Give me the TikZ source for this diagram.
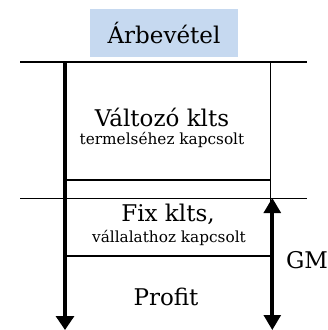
\documentclass[tikz,border=0pt]{standalone}
\usepackage{fontspec}
\setmainfont{DejaVu Serif}
\usetikzlibrary{arrows.meta}
\definecolor{headblue}{HTML}{C6D9F0}
\tikzset{
  bigtext/.style={font=\fontsize{23}{25}\selectfont, inner sep=0pt},
  smalltext/.style={font=\fontsize{15.3}{17}\selectfont, inner sep=0pt},
  rule/.style={line width=1.5pt},
  thinrule/.style={line width=1pt},
  axis/.style={line width=3.2pt, -{Triangle[length=14pt,width=18pt]}},
  gmaxis/.style={line width=2.6pt, {Triangle[length=15pt,width=17pt]}-{Triangle[length=15pt,width=17pt]}}
}
\begin{document}
\begin{tikzpicture}[x=1pt,y=-1pt]
\useasboundingbox (0,0) rectangle (328,330);

% revenue header
\node[fill=headblue, minimum width=148pt, minimum height=48pt, bigtext] (rev) at (164,33) {Árbevétel};

% reference points of the bars
\coordinate (topL) at (20,62);
\coordinate (topR) at (307,62);
\coordinate (midL) at (20,198);
\coordinate (midR) at (307,198);
\coordinate (a0) at (65,62);
\coordinate (a1) at (65,330);
\coordinate (b0) at (270,62);
\coordinate (b1) at (270,318);
\coordinate (v1) at (65,180);
\coordinate (v2) at (270,180);
\coordinate (f1) at (65,256);
\coordinate (f2) at (270,256);
\coordinate (g0) at (272.3,198);
\coordinate (g1) at (272.3,330);

% horizontal rules
\draw[rule] (topL) -- (topR);
\draw[thinrule] (midL) -- (midR);
\draw[rule] (v1) -- (v2);
\draw[rule] (f1) -- (f2);

% verticals
\draw[thinrule] (b0) -- (b1);
\draw[axis] (a0) -- (a1);
\draw[gmaxis] (g0) -- (g1);

% labels
\node[bigtext] (var) at (162,117) {Változó klts};
\node[smalltext] (varsub) at (162,140) {termelséhez kapcsolt};
\node[bigtext] (fix) at (168,214) {Fix klts,};
\node[smalltext] (fixsub) at (169,238) {vállalathoz kapcsolt};
\node[bigtext] (gm) at (307,260) {GM};
\node[bigtext] (profit) at (166,297) {Profit};
\end{tikzpicture}
\end{document}
